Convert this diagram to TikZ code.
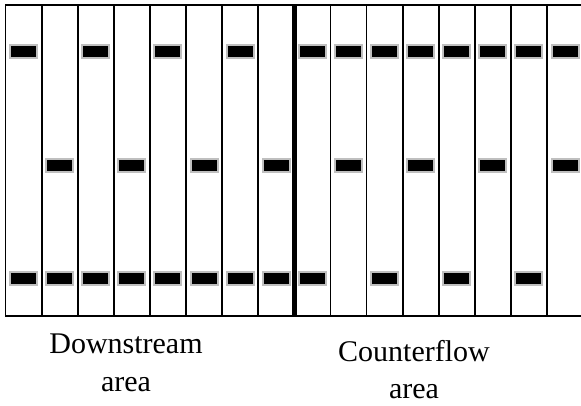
\documentclass[tikz,border=0pt]{standalone}
\usepackage{fontspec}
\setmainfont{Liberation Serif}
\begin{document}
\begin{tikzpicture}[x=1pt,y=-1pt,
  frameline/.style={line width=1.8pt,black},
  divider/.style={line width=4.5pt,black},
  slat/.style={rectangle,draw=black!25,fill=black,line width=2pt,minimum width=27pt,minimum height=13pt,inner sep=0pt},
  lbl/.style={font=\fontsize{30}{36}\selectfont,anchor=base,inner sep=0pt}]
\useasboundingbox (0,0) rectangle (581,405);
\begin{scope}
\clip (0,0) rectangle (581,405);
\draw[frameline] (5.5,5) rectangle (583,316);
\foreach \k in {1,...,7,9,10,...,15}
  \draw[frameline] (5.5+36.1*\k,5) -- (5.5+36.1*\k,316);
\draw[divider] (294.3,5) -- (294.3,316);
\foreach \c in {1,3,5,7,9,10,11,12,13,14,15,16}
  \node[slat] (t\c) at (5.5+36.1*\c-18.05,51) {};
\foreach \c in {2,4,6,8,10,12,14,16}
  \node[slat] (m\c) at (5.5+36.1*\c-18.05,165) {};
\foreach \c in {1,2,3,4,5,6,7,8,9,11,13,15}
  \node[slat] (b\c) at (5.5+36.1*\c-18.05,278.5) {};
\end{scope}
\node[lbl] (d1) at (126,353) {Downstream};
\node[lbl] (d2) at (126,391) {area};
\node[lbl] (c1) at (414,361) {Counterflow};
\node[lbl] (c2) at (414,398) {area};
\end{tikzpicture}
\end{document}
